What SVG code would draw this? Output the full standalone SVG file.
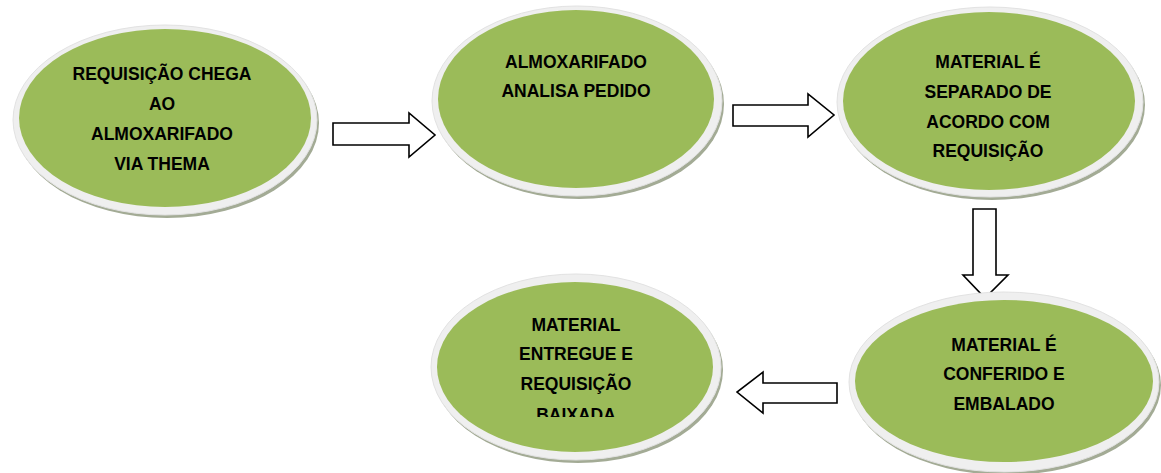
<svg xmlns="http://www.w3.org/2000/svg" width="1161" height="473" viewBox="0 0 1161 473">
<defs>
<style>
.shadow{fill:#a3ab95;}
.ring{fill:#efefef;stroke:#e2e2e2;stroke-width:1;}
.core{fill:#9bbb59;}
.lbl{font-family:"Liberation Sans",Arial,sans-serif;font-weight:bold;font-size:17.5px;fill:#000;text-anchor:middle;}
.arrow{fill:#fff;stroke:#000;stroke-width:1.6;stroke-linejoin:miter;}
</style>
<clipPath id="clip4"><rect x="420" y="260" width="320" height="157"/></clipPath>
</defs>
<rect width="1161" height="473" fill="#fff"/>
<g id="connectors">
<polygon class="arrow" points="333,123 409,123 409,113 435,135 409,157 409,145 333,145"/>
<polygon class="arrow" points="733,105 808,105 808,94 834,115 808,137 808,126 733,126"/>
<polygon class="arrow" points="973,209 996,209 996,275 1008,275 985,298 963,275 973,275"/>
<polygon class="arrow" points="837,383 763,383 763,372 737,392 763,413 763,403 837,403"/>
</g>
<g id="node1">
<ellipse class="shadow" cx="167" cy="123" rx="152" ry="95"/>
<ellipse class="ring" cx="165" cy="120" rx="152" ry="95"/>
<ellipse class="core" cx="165" cy="118" rx="146" ry="89"/>
<text class="lbl" x="162" y="80">REQUISIÇÃO CHEGA</text>
<text class="lbl" x="162" y="110">AO</text>
<text class="lbl" x="162" y="140">ALMOXARIFADO</text>
<text class="lbl" x="162" y="170">VIA THEMA</text>
</g>
<g id="node2">
<ellipse class="shadow" cx="579" cy="104" rx="145" ry="95"/>
<ellipse class="ring" cx="577" cy="101" rx="145" ry="95"/>
<ellipse class="core" cx="576" cy="99" rx="138" ry="89"/>
<text class="lbl" x="576" y="68">ALMOXARIFADO</text>
<text class="lbl" x="576" y="97">ANALISA PEDIDO</text>
</g>
<g id="node3">
<ellipse class="shadow" cx="992" cy="105" rx="153" ry="95"/>
<ellipse class="ring" cx="990" cy="102" rx="153" ry="95"/>
<ellipse class="core" cx="989" cy="101" rx="146" ry="89"/>
<text class="lbl" x="988" y="68">MATERIAL É</text>
<text class="lbl" x="988" y="98">SEPARADO DE</text>
<text class="lbl" x="988" y="128">ACORDO COM</text>
<text class="lbl" x="988" y="157">REQUISIÇÃO</text>
</g>
<g id="node4">
<ellipse class="shadow" cx="578" cy="370" rx="145" ry="93"/>
<ellipse class="ring" cx="576" cy="367" rx="145" ry="93"/>
<ellipse class="core" cx="575" cy="367" rx="138" ry="85"/>
<text class="lbl" x="576" y="331">MATERIAL</text>
<text class="lbl" x="576" y="360">ENTREGUE E</text>
<text class="lbl" x="576" y="390">REQUISIÇÃO</text>
<text class="lbl" x="576" y="421" clip-path="url(#clip4)">BAIXADA</text>
</g>
<g id="node5">
<ellipse class="shadow" cx="1006" cy="385" rx="155" ry="90"/>
<ellipse class="ring" cx="1004" cy="382" rx="155" ry="90"/>
<ellipse class="core" cx="1004" cy="381" rx="149" ry="81"/>
<text class="lbl" x="1004" y="351">MATERIAL É</text>
<text class="lbl" x="1004" y="380">CONFERIDO E</text>
<text class="lbl" x="1004" y="410">EMBALADO</text>
</g>
</svg>
